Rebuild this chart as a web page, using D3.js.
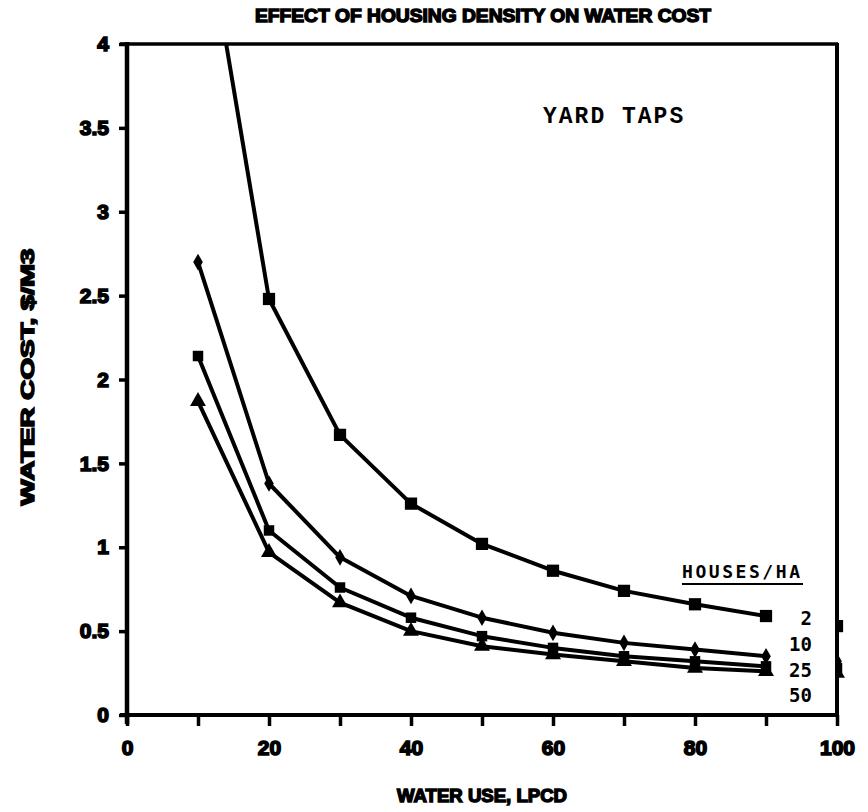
<!DOCTYPE html>
<html>
<head>
<meta charset="utf-8">
<script src="https://cdn.jsdelivr.net/npm/d3@7/dist/d3.min.js"></script>
<style>
  html, body { margin: 0; padding: 0; background: #fff; }
  svg { display: block; }
</style>
</head>
<body>
<svg id="chart" width="868" height="812"></svg>
<script>
// Water use per capita (litres per capita per day)
const waterUse = [10, 20, 30, 40, 50, 60, 70, 80, 90];
// Housing densities, houses per hectare
const densities = ["2", "10", "25", "50"];
// Water cost, $/m3, one list per density
const cost2  = [5.00, 2.48, 1.67, 1.26, 1.02, 0.86, 0.74, 0.66, 0.59];
const cost10 = [2.70, 1.38, 0.94, 0.71, 0.58, 0.49, 0.43, 0.39, 0.35];
const cost25 = [2.14, 1.10, 0.76, 0.58, 0.47, 0.40, 0.35, 0.32, 0.29];
const cost50 = [1.87, 0.97, 0.67, 0.50, 0.41, 0.36, 0.32, 0.28, 0.26];
// Points at 100 lpcd, which sit on the right frame
const cost100 = [0.53, 0.32, 0.28, 0.25];
const xTicks = [0, 10, 20, 30, 40, 50, 60, 70, 80, 90, 100];
const xTickLabels = ["0", "", "20", "", "40", "", "60", "", "80", "", "100"];
const yTicks = [0, 0.5, 1, 1.5, 2, 2.5, 3, 3.5, 4];
const yTickLabels = ["0", "0.5", "1", "1.5", "2", "2.5", "3", "3.5", "4"];

const seriesValues = [cost2, cost10, cost25, cost50];
const markerShapes = [d3.symbolSquare, d3.symbolDiamond, d3.symbolSquare, d3.symbolTriangle];
const markerSizes = [150, 80, 110, 110];

const svg = d3.select("#chart");
const x = d3.scaleLinear().domain([0, 100]).range([127, 837]);
const y = d3.scaleLinear().domain([0, 4]).range([715, 44]);

const tickFont = "'Liberation Sans', Arial, sans-serif";

// plot-area clip
const defs = svg.append("defs");
defs.append("clipPath").attr("id", "plotClip")
  .append("rect").attr("x", x(0)).attr("y", y(4)).attr("width", x(100) - x(0)).attr("height", y(0) - y(4));
defs.append("clipPath").attr("id", "edgeClip")
  .append("rect").attr("x", x(100) - 2).attr("y", y(4)).attr("width", 14).attr("height", y(0) - y(4));

// Series lines and markers
const line = d3.line().x((d, i) => x(waterUse[i])).y(d => y(d));
const plot = svg.append("g").attr("clip-path", "url(#plotClip)");
seriesValues.forEach((vals, s) => {
  plot.append("path")
    .attr("d", line(vals))
    .attr("fill", "none")
    .attr("stroke", "#000")
    .attr("stroke-width", 4)
    .attr("stroke-linejoin", "round");
  plot.selectAll(null).data(vals).enter().append("path")
    .attr("transform", (d, i) => `translate(${x(waterUse[i])},${y(d)})`)
    .attr("d", d3.symbol().type(markerShapes[s]).size(markerSizes[s]))
    .attr("fill", "#000");
});
svg.append("g").attr("clip-path", "url(#edgeClip)")
  .selectAll(null).data(cost100).enter().append("path")
  .attr("transform", d => `translate(${x(100)},${y(d)})`)
  .attr("d", (d, i) => d3.symbol().type(markerShapes[i]).size(markerSizes[i])())
  .attr("fill", "#000");

// Frame: top and right edges
svg.append("line").attr("x1", x(0) - 7).attr("x2", x(100) + 1).attr("y1", y(4)).attr("y2", y(4))
  .attr("stroke", "#000").attr("stroke-width", 3.5);
svg.append("line").attr("x1", x(100)).attr("x2", x(100)).attr("y1", y(4) - 1).attr("y2", y(0))
  .attr("stroke", "#000").attr("stroke-width", 4);

// X axis
const xAxis = svg.append("g").attr("transform", `translate(0,${y(0)})`)
  .call(d3.axisBottom(x).tickValues(xTicks).tickSize(11).tickSizeOuter(0)
    .tickFormat((d, i) => xTickLabels[i]).tickPadding(14));
xAxis.select(".domain").attr("stroke-width", 4).attr("d", `M${x(0) - 7},0H${x(100)}`);
xAxis.selectAll(".tick line").attr("stroke-width", 3.5);
xAxis.selectAll(".tick text")
  .attr("font-family", tickFont).attr("font-weight", "bold").attr("font-size", 21)
  .attr("fill", "#000").attr("stroke", "#000").attr("stroke-width", 1.6);

// Y axis
const yAxis = svg.append("g").attr("transform", `translate(${x(0)},0)`)
  .call(d3.axisLeft(y).tickValues(yTicks).tickSize(8).tickSizeOuter(0)
    .tickFormat((d, i) => yTickLabels[i]).tickPadding(10));
yAxis.select(".domain").attr("stroke-width", 4.5).attr("d", `M0,${y(4) - 2}V${y(0) + 9}`);
yAxis.selectAll(".tick line").attr("stroke-width", 3.5);
yAxis.selectAll(".tick text")
  .attr("font-family", tickFont).attr("font-weight", "bold").attr("font-size", 21)
  .attr("fill", "#000").attr("stroke", "#000").attr("stroke-width", 1.6);

// Titles
svg.append("text").attr("x", 483).attr("y", 22).attr("text-anchor", "middle")
  .attr("font-family", tickFont).attr("font-weight", "bold").attr("font-size", 18)
  .attr("stroke", "#000").attr("stroke-width", 1.4)
  .attr("textLength", 456).attr("lengthAdjust", "spacingAndGlyphs")
  .text("EFFECT OF HOUSING DENSITY ON WATER COST");

svg.append("text").attr("x", 482).attr("y", 802).attr("text-anchor", "middle")
  .attr("font-family", tickFont).attr("font-weight", "bold").attr("font-size", 18)
  .attr("stroke", "#000").attr("stroke-width", 1.4)
  .attr("textLength", 170).attr("lengthAdjust", "spacingAndGlyphs")
  .text("WATER USE, LPCD");

svg.append("text").attr("transform", "translate(34,377) rotate(-90)").attr("text-anchor", "middle")
  .attr("font-family", tickFont).attr("font-weight", "bold").attr("font-size", 18)
  .attr("stroke", "#000").attr("stroke-width", 1.4)
  .attr("textLength", 257).attr("lengthAdjust", "spacingAndGlyphs")
  .text("WATER COST, $/M3");

// Chart annotation
svg.append("text").attr("x", 543).attr("y", 123)
  .attr("font-family", "'Liberation Mono', 'Courier New', monospace").attr("font-weight", "bold")
  .attr("font-size", 23).attr("letter-spacing", 2)
  .text("YARD TAPS");

// Density legend
const monoFont = "'DejaVu Sans Mono', monospace";
svg.append("text").attr("x", 682).attr("y", 578)
  .attr("font-family", monoFont).attr("font-weight", "bold").attr("font-size", 18)
  .attr("textLength", 118).attr("lengthAdjust", "spacing")
  .text("HOUSES/HA");
svg.append("line").attr("x1", 682).attr("x2", 803).attr("y1", 584).attr("y2", 584)
  .attr("stroke", "#000").attr("stroke-width", 2);
const legendY = [618, 644, 670, 695];
svg.selectAll(null).data(densities).enter().append("text")
  .attr("x", 812).attr("y", (d, i) => legendY[i] + 7).attr("text-anchor", "end")
  .attr("font-family", monoFont).attr("font-weight", "bold").attr("font-size", 19)
  .text(d => d);
</script>
</body>
</html>
